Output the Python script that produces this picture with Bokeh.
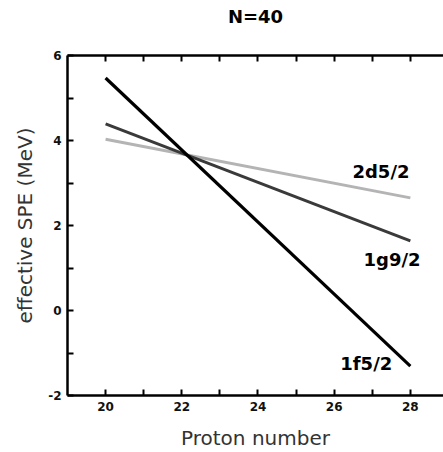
from bokeh.plotting import figure
from bokeh.models import FixedTicker, LinearAxis, Range1d, ColumnDataSource, Title
from bokeh.embed import file_html
from bokeh.resources import INLINE
from bokeh.core.properties import value

# data
proton = [20, 28]
f52 = [5.47, -1.31]
g92 = [4.39, 1.64]
d52 = [4.03, 2.65]

label_names = ["2d5/2", "1g9/2", "1f5/2"]
label_x = [26.48, 26.77, 26.16]
label_y = [3.27, 1.19, -1.24]

x_ticks = [20, 21, 22, 23, 24, 25, 26, 27, 28]
x_tick_labels = {20: "20", 22: "22", 24: "24", 26: "26", 28: "28"}
y_ticks = [-2, -1, 0, 1, 2, 3, 4, 5, 6]
y_tick_labels = {-2: "-2", 0: "0", 2: "2", 4: "4", 6: "6"}

title_text = "N=40"

FONT = "DejaVu Sans"

p = figure(width=443, height=452, output_backend="svg", toolbar_location=None,
           x_range=Range1d(19.0, 28.87), y_range=Range1d(-2, 6),
           x_axis_location=None, y_axis_location=None,
           min_border_left=67, min_border_right=0, min_border_top=52, min_border_bottom=54)
p.outline_line_color = None
p.grid.visible = False
p.background_fill_color = "white"
p.border_fill_color = "white"

p.title = Title(text=title_text, align="center", vertical_align="top", text_font=FONT,
                text_font_size="18px", text_font_style="bold", text_color="black",
                standoff=10, offset=4)

def style_axis(ax, ticks, labels, show_labels=True):
    ax.ticker = FixedTicker(ticks=ticks)
    ax.major_label_overrides = {k: labels.get(k, "") for k in ticks}
    ax.axis_line_width = 2.5
    ax.axis_line_color = "black"
    ax.major_tick_in = 6
    ax.major_tick_out = 0
    ax.major_tick_line_width = 2
    ax.major_tick_line_color = "black"
    ax.minor_tick_line_color = None
    ax.major_label_text_font = FONT
    ax.major_label_text_font_size = "12px" if show_labels else "0px"
    ax.major_label_text_font_style = "bold"
    ax.major_label_text_color = "#111111"
    ax.major_label_standoff = 6 if show_labels else 0
    ax.axis_label_text_font = FONT
    ax.axis_label_text_font_size = "20px"
    ax.axis_label_text_font_style = "normal"
    ax.axis_label_text_color = "#333333"

bottom = LinearAxis(axis_label="Proton number")
style_axis(bottom, x_ticks, x_tick_labels)
bottom.axis_label_standoff = 12
p.add_layout(bottom, "below")

top = LinearAxis(axis_label=" ")
style_axis(top, x_ticks, {}, show_labels=False)
top.axis_label_text_font_size = "16px"
top.axis_label_standoff = 0
p.add_layout(top, "above")

left = LinearAxis(axis_label="effective SPE (MeV)")
style_axis(left, y_ticks, y_tick_labels)
left.axis_label_standoff = 8
p.add_layout(left, "left")

p.line(proton, d52, line_color="#b4b4b4", line_width=3)
p.line(proton, g92, line_color="#3a3a3a", line_width=3)
p.line(proton, f52, line_color="black", line_width=3.2)

src = ColumnDataSource(dict(x=label_x, y=label_y, t=label_names))
p.text(x="x", y="y", text="t", source=src, text_font=value(FONT), text_font_size="18px",
       text_font_style="bold", text_color="black", text_align="left", text_baseline="middle")

open("out.html", "w").write(file_html(p, INLINE))
